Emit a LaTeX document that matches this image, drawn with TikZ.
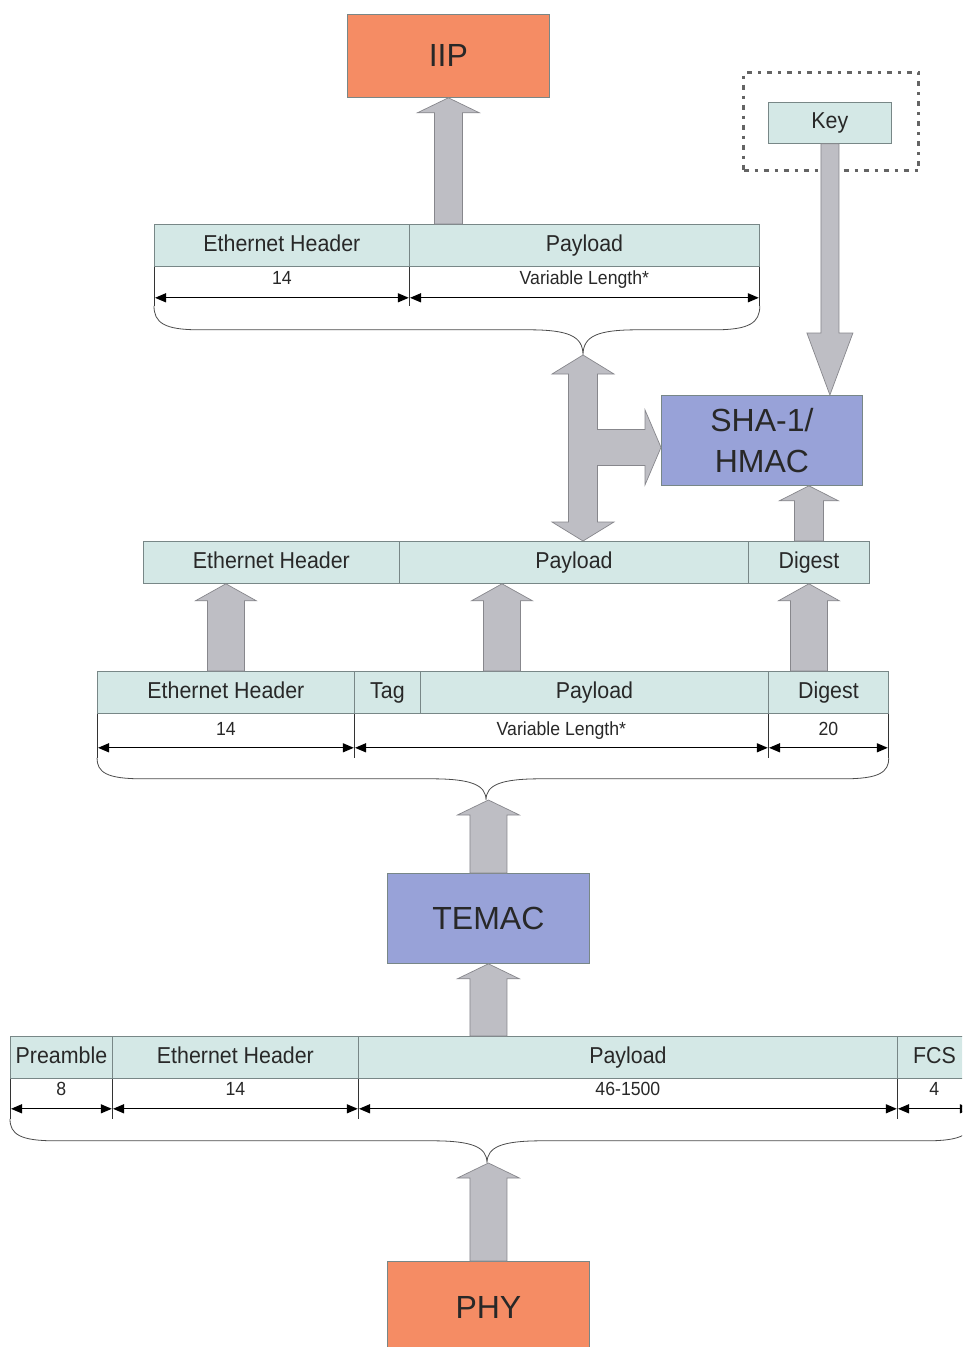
\documentclass[tikz,border=0pt]{standalone}
\usepackage{fontspec}
\setmainfont{Liberation Sans}
\newfontfamily\narrowf{Liberation Sans}[FakeStretch=0.93]
\usetikzlibrary{arrows.meta,calc}
\definecolor{orangec}{RGB}{245,140,100}
\definecolor{bluec}{RGB}{152,162,216}
\definecolor{cyanc}{RGB}{212,232,230}
\definecolor{arrf}{RGB}{190,190,196}
\definecolor{arrb}{RGB}{135,135,140}
\definecolor{cellb}{RGB}{120,135,135}
\definecolor{txt}{RGB}{40,40,40}
\definecolor{keyb}{RGB}{100,100,100}
\tikzset{
  cell/.style={draw=cellb, line width=0.8pt, fill=cyanc, minimum height=42pt, inner sep=0pt,
    text height=16.5pt, text depth=4.5pt,
    anchor=north west, text=txt, font=\narrowf\fontsize{23}{27}\selectfont},
  dimlbl/.style={inner sep=0pt, text height=13.5pt, text depth=3.5pt, text=txt, font=\narrowf\fontsize{19}{22}\selectfont},
  bigbox/.style={draw=cellb, line width=0.8pt, inner sep=0pt, anchor=north west, text=txt,
    font=\fontsize{32}{41}\selectfont},
  blk/.style={fill=arrf, draw=arrb, line width=0.7pt, line join=miter},
  dim/.style={line width=1.3pt, black, {Triangle[length=11pt,width=9pt]}-{Triangle[length=11pt,width=9pt]}, shorten <=1pt, shorten >=1pt},
  extl/.style={line width=0.8pt, black!80},
  brace/.style={line width=0.8pt, black!70},
}
\newcommand{\blkup}[5]{\draw[blk] let \p1=#1, \p2=#2 in
  (\x2-#3pt,\y1) -- (\x2-#3pt,\y2-#5pt) -- (\x2-#4pt,\y2-#5pt) -- (\x2,\y2) --
  (\x2+#4pt,\y2-#5pt) -- (\x2+#3pt,\y2-#5pt) -- (\x2+#3pt,\y1) -- cycle;}
\newcommand{\blkdown}[5]{\draw[blk] let \p1=#1, \p2=#2 in
  (\x2-#3pt,\y1) -- (\x2-#3pt,\y2+#5pt) -- (\x2-#4pt,\y2+#5pt) -- (\x2,\y2) --
  (\x2+#4pt,\y2+#5pt) -- (\x2+#3pt,\y2+#5pt) -- (\x2+#3pt,\y1) -- cycle;}
\newcommand{\brc}[4]{\draw[brace] let \p1=#1, \p2=#2, \p3=#3 in
  (\x1,\y1) .. controls (\x1,\y1-0.7*#4pt) and (\x1+10pt,\y1-#4pt) .. (\x1+45pt,\y1-#4pt)
  -- (\x3-55pt,\y1-#4pt) .. controls (\x3-15pt,\y1-#4pt) and (\x3,\y1-#4pt-6pt) .. (\x3,\y3)
  .. controls (\x3,\y1-#4pt-6pt) and (\x3+15pt,\y1-#4pt) .. (\x3+55pt,\y1-#4pt)
  -- (\x2-45pt,\y1-#4pt) .. controls (\x2-10pt,\y1-#4pt) and (\x2,\y1-0.7*#4pt) .. (\x2,\y2);}
\begin{document}
\begin{tikzpicture}[x=1pt,y=-1pt]
\useasboundingbox (0,0) rectangle (962,1347);
\clip (0,0) rectangle (962,1347);
\fill[white] (0,0) rectangle (962,1347);

% big boxes
\node[bigbox, fill=orangec, minimum width=202pt, minimum height=83pt] (iip) at (347,14) {IIP};
\node[bigbox, fill=bluec, minimum width=201pt, minimum height=90pt, align=center] (sha) at (661,395) {SHA-1/\\HMAC};
\node[bigbox, fill=bluec, minimum width=202pt, minimum height=90pt] (temac) at (387,873) {TEMAC};
\node[bigbox, fill=orangec, minimum width=202pt, minimum height=92pt] (phy) at (387,1261) {PHY};

% key
\node[draw=keyb, line width=3pt, dash pattern=on 5pt off 6pt on 3pt off 6pt, minimum width=175pt, minimum height=98pt, anchor=north west, inner sep=0pt] (keyframe) at (742,71) {};
\node[cell, minimum width=123pt, minimum height=41pt] (key) at (768,102) {Key};

% row 1
\node[cell, minimum width=255pt] (r1h) at (154,224) {Ethernet Header};
\node[cell, minimum width=350pt] (r1p) at (409,224) {Payload};
\node[dimlbl] (l1a) at ([yshift=-13pt]r1h.south) {14};
\node[dimlbl] (l1b) at ([yshift=-13pt]r1p.south) {Variable Length*};
\foreach \a in {r1h.south west, r1h.south east, r1p.south east}
  \draw[extl] (\a) -- ([yshift=-39pt]\a);
\draw[dim] ([yshift=-31pt]r1h.south west) -- ([yshift=-31pt]r1h.south east);
\draw[dim] ([yshift=-31pt]r1p.south west) -- ([yshift=-31pt]r1p.south east);
\coordinate (t1) at (583,355);
\brc{([yshift=-39pt]r1h.south west)}{([yshift=-39pt]r1p.south east)}{(t1)}{24}

% row 2
\node[cell, minimum width=256pt] (r2h) at (143,541) {Ethernet Header};
\node[cell, minimum width=349pt] (r2p) at (399,541) {Payload};
\node[cell, minimum width=121pt] (r2d) at (748,541) {Digest};

% row 3
\node[cell, minimum width=257pt] (r3h) at (97,671) {Ethernet Header};
\node[cell, minimum width=66pt] (r3t) at (354,671) {Tag};
\node[cell, minimum width=348pt] (r3p) at (420,671) {Payload};
\node[cell, minimum width=120pt] (r3d) at (768,671) {Digest};
\node[dimlbl] (l3a) at ([yshift=-17pt]r3h.south) {14};
\node[dimlbl] (l3b) at ($([yshift=-17pt]r3t.south west)!0.5!([yshift=-17pt]r3p.south east)$) {Variable Length*};
\node[dimlbl] (l3c) at ([yshift=-17pt]r3d.south) {20};
\foreach \a in {r3h.south west, r3h.south east, r3p.south east, r3d.south east}
  \draw[extl] (\a) -- ([yshift=-44pt]\a);
\draw[dim] ([yshift=-34pt]r3h.south west) -- ([yshift=-34pt]r3h.south east);
\draw[dim] ([yshift=-34pt]r3t.south west) -- ([yshift=-34pt]r3p.south east);
\draw[dim] ([yshift=-34pt]r3d.south west) -- ([yshift=-34pt]r3d.south east);
\coordinate (t3) at (486,800);
\brc{([yshift=-44pt]r3h.south west)}{([yshift=-44pt]r3d.south east)}{(t3)}{21}

% row 4
\node[cell, minimum width=102pt] (r4pr) at (10,1036) {Preamble};
\node[cell, minimum width=246pt] (r4h) at (112,1036) {Ethernet Header};
\node[cell, minimum width=539pt] (r4p) at (358,1036) {Payload};
\node[cell, minimum width=74pt] (r4f) at (897,1036) {FCS};
\node[dimlbl] (l4a) at ([yshift=-12pt]r4pr.south) {8};
\node[dimlbl] (l4b) at ([yshift=-12pt]r4h.south) {14};
\node[dimlbl] (l4c) at ([yshift=-12pt]r4p.south) {46-1500};
\node[dimlbl] (l4d) at ([yshift=-12pt]r4f.south) {4};
\foreach \a in {r4pr.south west, r4pr.south east, r4h.south east, r4p.south east, r4f.south east}
  \draw[extl] (\a) -- ([yshift=-40pt]\a);
\foreach \c in {r4pr, r4h, r4p, r4f}
  \draw[dim] ([yshift=-30pt]\c.south west) -- ([yshift=-30pt]\c.south east);
\coordinate (t4) at (487,1163);
\brc{([yshift=-40pt]r4pr.south west)}{([yshift=-40pt]r4f.south east)}{(t4)}{22}

% block arrows
\blkup{(iip.south |- r1p.north)}{(iip.south)}{14}{31}{15}
\blkdown{(key.south)}{(key.south |- sha.north)}{9}{23}{62}
\blkup{(r3h.north)}{(r3h.north |- r2h.south)}{18.5}{30.5}{17}
\coordinate (m3) at ([xshift=82pt]r3p.north west);
\blkup{(m3)}{(m3 |- r2p.south)}{18.5}{30.5}{17}
\blkup{(r2d.south |- r3d.north)}{(r2d.south)}{18.5}{30.5}{17}
\blkup{(r2d.north)}{(r2d.north |- sha.south)}{14.5}{29.5}{15}
\blkup{(temac.north)}{(temac.north |- t3)}{18.5}{31}{15}
\blkup{(temac.south |- r4p.north)}{(temac.south)}{18.5}{31}{15}
\blkup{(phy.north)}{(phy.north |- t4)}{18.5}{31}{15}
% double arrow with branch to SHA
\draw[blk] let \p1=(t1), \p2=(t1 |- r2p.north), \p3=([yshift=-7pt]sha.west) in
  (\x1,\y1) -- (\x1+31pt,\y1-19pt) -- (\x1+14.5pt,\y1-19pt) -- (\x1+14.5pt,\y3+18pt)
  -- (\x3-16pt,\y3+18pt) -- (\x3-16pt,\y3+37.5pt) -- (\x3,\y3) -- (\x3-16pt,\y3-37.5pt)
  -- (\x3-16pt,\y3-18pt) -- (\x1+14.5pt,\y3-18pt) -- (\x1+14.5pt,\y2+19pt)
  -- (\x1+31pt,\y2+19pt) -- (\x2,\y2) -- (\x1-31pt,\y2+19pt) -- (\x1-14.5pt,\y2+19pt)
  -- (\x1-14.5pt,\y1-19pt) -- (\x1-31pt,\y1-19pt) -- cycle;
\end{tikzpicture}
\end{document}
